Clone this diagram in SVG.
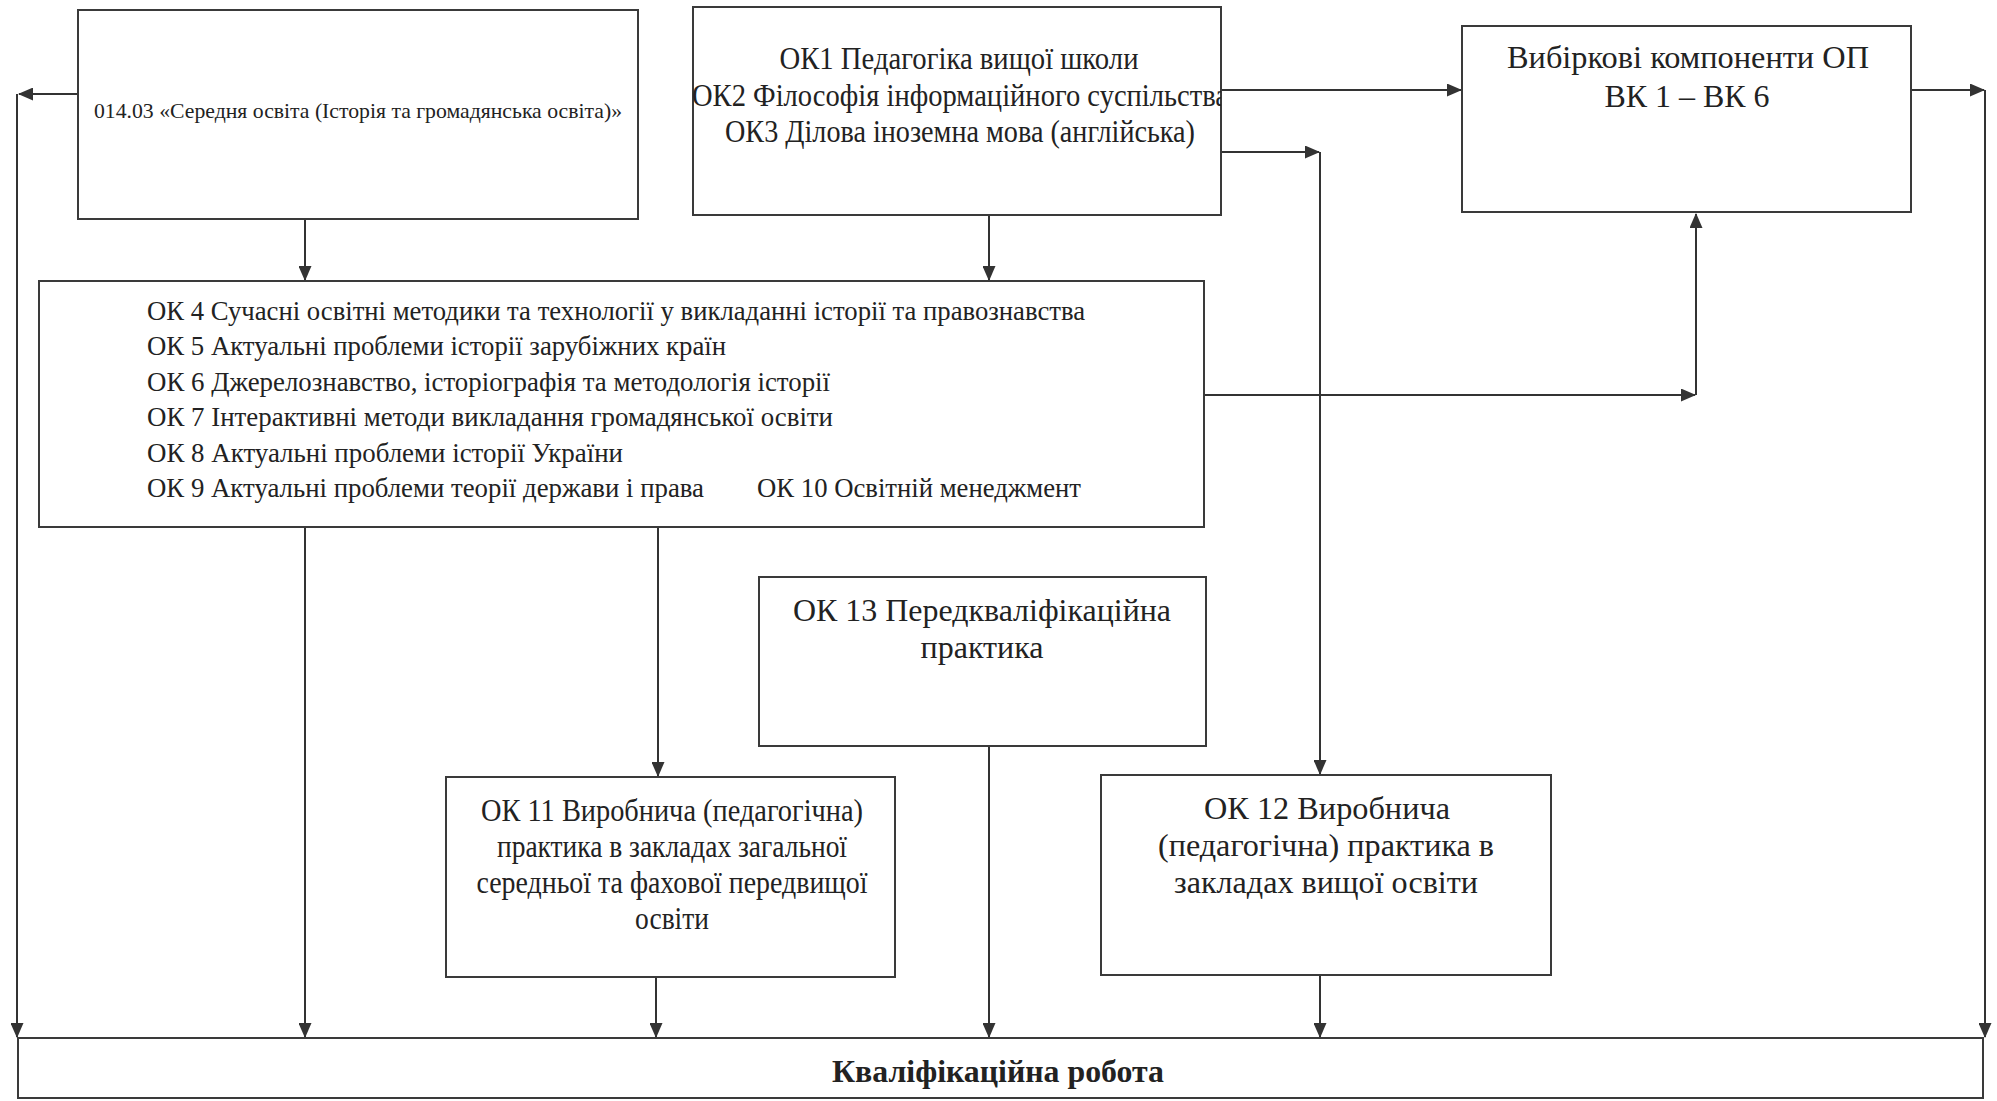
<svg xmlns="http://www.w3.org/2000/svg" width="1997" height="1101" viewBox="0 0 1997 1101">
<style>
.box{fill:#fff;stroke:#3a3a3a;stroke-width:2}
.t{font-family:"Liberation Serif","Times New Roman",serif;fill:#222;font-size:32px}
.c{text-anchor:middle}
.m{font-size:31px}
.s{font-size:26.6px}
.xs{font-size:22px}
.b{font-weight:bold;font-size:31px}
.ln{fill:none;stroke:#333;stroke-width:2}
</style>
<defs>
<marker id="ah" markerWidth="15" markerHeight="13" refX="14" refY="6.5" orient="auto" markerUnits="userSpaceOnUse">
<path d="M0,0 L15,6.5 L0,13 Z" fill="#333"/>
</marker>
<clipPath id="cb2"><rect x="680" y="7" width="541" height="208"/></clipPath>
</defs>
<rect width="1997" height="1101" fill="#fff"/>

<g id="connectors">
<path class="ln" d="M78,94 L19,94" marker-end="url(#ah)"/>
<path class="ln" d="M17,94 L17,1037" marker-end="url(#ah)"/>
<path class="ln" d="M305,219 L305,280" marker-end="url(#ah)"/>
<path class="ln" d="M989,215 L989,280" marker-end="url(#ah)"/>
<path class="ln" d="M1221,90 L1461,90" marker-end="url(#ah)"/>
<path class="ln" d="M1221,152 L1319,152" marker-end="url(#ah)"/>
<path class="ln" d="M1320,152 L1320,774" marker-end="url(#ah)"/>
<path class="ln" d="M1911,90 L1984,90" marker-end="url(#ah)"/>
<path class="ln" d="M1985,90 L1985,1037" marker-end="url(#ah)"/>
<path class="ln" d="M1204,395 L1695,395" marker-end="url(#ah)"/>
<path class="ln" d="M1696,395 L1696,214" marker-end="url(#ah)"/>
<path class="ln" d="M305,527 L305,1037" marker-end="url(#ah)"/>
<path class="ln" d="M658,527 L658,776" marker-end="url(#ah)"/>
<path class="ln" d="M989,746 L989,1037" marker-end="url(#ah)"/>
<path class="ln" d="M656,977 L656,1037" marker-end="url(#ah)"/>
<path class="ln" d="M1320,975 L1320,1037" marker-end="url(#ah)"/>
</g>

<g id="n-speciality">
<rect class="box" x="78" y="10" width="560" height="209"/>
<text class="t xs c" x="358" y="118" textLength="528" lengthAdjust="spacingAndGlyphs">014.03 «Середня освіта  (Історія та громадянська освіта)»</text>
</g>

<g id="n-ok1-3">
<rect class="box" x="693" y="7" width="528" height="208"/>
<text class="t m c" x="959" y="69" textLength="359" lengthAdjust="spacingAndGlyphs">ОК1 Педагогіка вищої школи</text>
<text class="t m" x="692" y="106" textLength="536" lengthAdjust="spacingAndGlyphs" clip-path="url(#cb2)">ОК2 Філософія інформаційного суспільства</text>
<text class="t m c" x="960" y="142" textLength="470" lengthAdjust="spacingAndGlyphs">ОК3 Ділова іноземна мова (англійська)</text>
</g>

<g id="n-vk">
<rect class="box" x="1462" y="26" width="449" height="186"/>
<text class="t c" x="1688" y="68" textLength="362" lengthAdjust="spacingAndGlyphs">Вибіркові компоненти ОП</text>
<text class="t c" x="1687" y="107" textLength="165" lengthAdjust="spacingAndGlyphs">ВК 1 – ВК 6</text>
</g>

<g id="n-ok4-10">
<rect class="box" x="39" y="281" width="1165" height="246"/>
<text class="t s" x="147" y="320" textLength="938" lengthAdjust="spacingAndGlyphs">ОК 4 Сучасні освітні методики та технології у викладанні історії та правознавства</text>
<text class="t s" x="147" y="355.4" textLength="579" lengthAdjust="spacingAndGlyphs">ОК 5 Актуальні проблеми історії зарубіжних країн</text>
<text class="t s" x="147" y="390.8" textLength="683" lengthAdjust="spacingAndGlyphs">ОК 6 Джерелознавство, історіографія та методологія історії</text>
<text class="t s" x="147" y="426.2" textLength="686" lengthAdjust="spacingAndGlyphs">ОК 7 Інтерактивні методи викладання громадянської освіти</text>
<text class="t s" x="147" y="461.6" textLength="476" lengthAdjust="spacingAndGlyphs">ОК 8 Актуальні проблеми історії України</text>
<text class="t s" x="147" y="497" textLength="557" lengthAdjust="spacingAndGlyphs">ОК 9 Актуальні проблеми теорії держави і права</text>
<text class="t s" x="757" y="497" textLength="324" lengthAdjust="spacingAndGlyphs">ОК 10 Освітній менеджмент</text>
</g>

<g id="n-ok13">
<rect class="box" x="759" y="577" width="447" height="169"/>
<text class="t c" x="982" y="621" textLength="378" lengthAdjust="spacingAndGlyphs">ОК 13 Передкваліфікаційна</text>
<text class="t c" x="982" y="658" textLength="123" lengthAdjust="spacingAndGlyphs">практика</text>
</g>

<g id="n-ok11">
<rect class="box" x="446" y="777" width="449" height="200"/>
<text class="t m c" x="672" y="821" textLength="382" lengthAdjust="spacingAndGlyphs">ОК 11 Виробнича (педагогічна)</text>
<text class="t m c" x="672" y="857" textLength="350" lengthAdjust="spacingAndGlyphs">практика в закладах загальної</text>
<text class="t m c" x="672" y="893" textLength="391" lengthAdjust="spacingAndGlyphs">середньої та фахової передвищої</text>
<text class="t m c" x="672" y="929" textLength="74" lengthAdjust="spacingAndGlyphs">освіти</text>
</g>

<g id="n-ok12">
<rect class="box" x="1101" y="775" width="450" height="200"/>
<text class="t c" x="1327" y="819" textLength="246" lengthAdjust="spacingAndGlyphs">ОК 12 Виробнича</text>
<text class="t c" x="1326" y="856" textLength="336" lengthAdjust="spacingAndGlyphs">(педагогічна) практика в</text>
<text class="t c" x="1326" y="893" textLength="304" lengthAdjust="spacingAndGlyphs">закладах вищої освіти</text>
</g>

<g id="n-thesis">
<rect class="box" x="18" y="1038" width="1965" height="60"/>
<text class="t b c" x="998" y="1082" textLength="332" lengthAdjust="spacingAndGlyphs">Кваліфікаційна робота</text>
</g>
</svg>
